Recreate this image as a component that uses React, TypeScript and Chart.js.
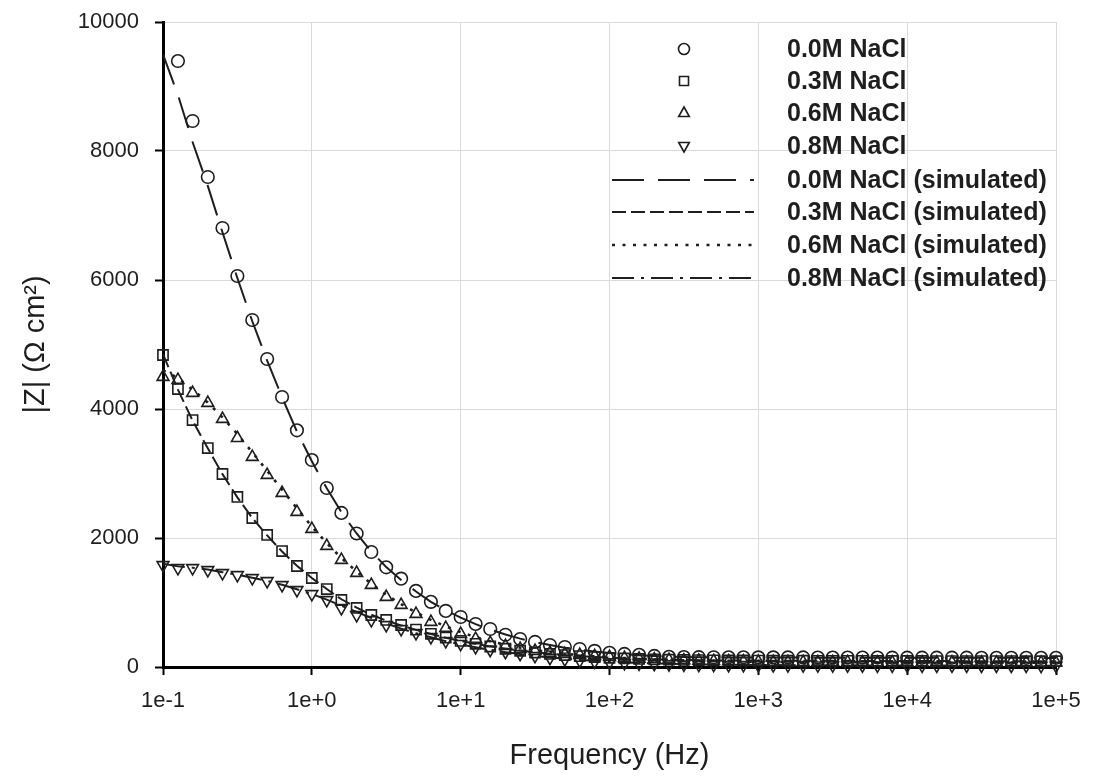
import React, { useEffect, useRef } from 'react';
import { Chart, registerables } from 'chart.js';

Chart.register(...registerables);

// Frequency grid (Hz), 10 points per decade
const frequencies = [
  0.1, 0.126, 0.158, 0.2, 0.251, 0.316, 0.398, 0.501, 0.631, 0.794,
  1, 1.26, 1.58, 2, 2.51, 3.16, 3.98, 5.01, 6.31, 7.94,
  10, 12.6, 15.8, 20, 25.1, 31.6, 39.8, 50.1, 63.1, 79.4,
  100, 126, 158, 200, 251, 316, 398, 501, 631, 794,
  1000, 1260, 1580, 2000, 2510, 3160, 3980, 5010, 6310, 7940,
  10000, 12600, 15800, 20000, 25100, 31600, 39800, 50100, 63100, 79400,
  100000,
];

// Measured |Z| (Ohm cm2)
const z00 = [
  null, 9395, 8465, 7597, 6806, 6062, 5380, 4775, 4186, 3670,
  3209, 2775, 2388, 2070, 1783, 1545, 1370, 1180, 1010, 870,
  775, 667, 589, 500, 434, 388, 341, 310, 279, 250,
  220, 203, 188, 172, 158, 154, 152, 151, 150, 150,
  149, 149, 148, 148, 147, 147, 146, 146, 146, 145,
  145, 145, 144, 144, 144, 143, 143, 143, 142, 142, 142,
];
const z03 = [
  4837, 4310, 3829, 3395, 2992, 2636, 2310, 2047, 1798, 1566,
  1380, 1209, 1039, 915, 806, 729, 651, 580, 515, 455,
  405, 360, 318, 283, 252, 225, 203, 185, 168, 155,
  143, 133, 125, 118, 113, 109, 106, 104, 102, 101,
  100, 99, 98, 97, 96, 96, 95, 95, 94, 94,
  93, 93, 92, 92, 92, 91, 91, 91, 90, 90, 90,
];
const z06 = [
  4496, 4450, 4248, 4093, 3845, 3550, 3256, 2977, 2698, 2403,
  2140, 1876, 1659, 1457, 1271, 1085, 961, 822, 698, 605,
  512, 434, 372, 326, 279, 248, 217, 200, 186, 170,
  155, 140, 128, 118, 110, 103, 97, 92, 88, 85,
  82, 80, 78, 77, 76, 75, 74, 73, 72, 72,
  71, 71, 70, 70, 70, 69, 69, 69, 68, 68, 68,
];
const z08 = [
  1581, 1535, 1535, 1504, 1457, 1426, 1380, 1333, 1271, 1194,
  1132, 1039, 915, 806, 729, 651, 589, 527, 465, 403,
  357, 310, 264, 233, 202, 171, 140, 120, 100, 85,
  72, 62, 54, 47, 42, 38, 35, 33, 31, 30,
  29, 28, 27, 26, 25, 25, 24, 24, 23, 23,
  22, 22, 21, 21, 21, 20, 20, 20, 20, 19, 19,
];

// Simulated |Z|
const z00Sim = [
  9500, 8870, 8140, 7460, 6740, 6030, 5360, 4750, 4180, 3650,
  3190, 2770, 2400, 2070, 1790, 1550, 1350, 1170, 1010, 880,
  765, 665, 580, 505, 440, 385, 340, 300, 268, 240,
  216, 198, 184, 172, 162, 156, 152, 150, 149, 148,
  147, 147, 146, 146, 145, 145, 145, 144, 144, 144,
  143, 143, 143, 143, 142, 142, 142, 142, 141, 141, 141,
];
const z03Sim = [
  4850, 4300, 3820, 3390, 2990, 2630, 2310, 2040, 1790, 1570,
  1380, 1210, 1050, 920, 810, 720, 645, 575, 512, 455,
  405, 360, 320, 285, 255, 228, 205, 186, 170, 156,
  145, 135, 127, 120, 114, 110, 106, 103, 101, 100,
  99, 98, 97, 96, 96, 95, 95, 94, 94, 93,
  93, 92, 92, 92, 91, 91, 91, 90, 90, 90, 89,
];
const z06Sim = [
  4600, 4480, 4300, 4100, 3870, 3610, 3330, 3040, 2750, 2460,
  2180, 1920, 1690, 1480, 1290, 1120, 975, 845, 730, 630,
  540, 465, 400, 345, 300, 262, 230, 205, 184, 167,
  152, 139, 128, 118, 110, 103, 97, 92, 88, 85,
  82, 80, 78, 77, 76, 75, 74, 73, 72, 72,
  71, 71, 70, 70, 70, 69, 69, 69, 68, 68, 68,
];
const z08Sim = [
  1600, 1560, 1540, 1510, 1470, 1430, 1385, 1335, 1275, 1205,
  1130, 1045, 950, 855, 760, 675, 595, 525, 460, 400,
  350, 305, 265, 230, 200, 172, 148, 128, 110, 95,
  82, 71, 62, 55, 49, 44, 40, 37, 35, 33,
  31, 30, 29, 28, 27, 26, 26, 25, 25, 24,
  24, 23, 23, 22, 22, 22, 21, 21, 21, 20, 20,
];

const xTickValues = [0.1, 1, 10, 100, 1000, 10000, 100000];
const xTickLabels = ['1e-1', '1e+0', '1e+1', '1e+2', '1e+3', '1e+4', '1e+5'];

const measuredLabels = ['0.0M NaCl', '0.3M NaCl', '0.6M NaCl', '0.8M NaCl'];
const simulatedLabels = [
  '0.0M NaCl (simulated)',
  '0.3M NaCl (simulated)',
  '0.6M NaCl (simulated)',
  '0.8M NaCl (simulated)',
];

const FONT = "'Liberation Sans', Arial, Helvetica, sans-serif";
const INK = '#1e1e1e';

const markerStyles = [
  { style: 'circle', radius: 6.3, rotation: 0 },
  { style: 'rect', radius: 7.2, rotation: 0 },
  { style: 'triangle', radius: 6.8, rotation: 0 },
  { style: 'triangle', radius: 6.8, rotation: 180 },
];
const dashStyles = [
  { dash: [32, 14], width: 2 },
  { dash: [14, 5], width: 2 },
  { dash: [3, 7.5], width: 2.6 },
  { dash: [22, 7, 3, 7], width: 2 },
];

function toPoints(values: (number | null)[]) {
  const pts: { x: number; y: number }[] = [];
  frequencies.forEach((f, i) => {
    const v = values[i];
    if (v !== null && v !== undefined) pts.push({ x: f, y: v });
  });
  return pts;
}

function drawMarker(ctx: CanvasRenderingContext2D, kind: number, x: number, y: number) {
  ctx.beginPath();
  if (kind === 0) {
    ctx.arc(x, y, 5.5, 0, Math.PI * 2);
  } else if (kind === 1) {
    ctx.rect(x - 4.5, y - 4.5, 9, 9);
  } else if (kind === 2) {
    ctx.moveTo(x, y - 6);
    ctx.lineTo(x + 5.3, y + 3.5);
    ctx.lineTo(x - 5.3, y + 3.5);
    ctx.closePath();
  } else {
    ctx.moveTo(x, y + 6);
    ctx.lineTo(x + 5.3, y - 3.5);
    ctx.lineTo(x - 5.3, y - 3.5);
    ctx.closePath();
  }
  ctx.stroke();
}

const legendPlugin = {
  id: 'naclLegend',
  afterDraw(chart: any) {
    const ctx: CanvasRenderingContext2D = chart.ctx;
    const rows = [49, 81, 113, 146, 180, 212, 245, 278];
    ctx.save();
    ctx.strokeStyle = INK;
    ctx.fillStyle = INK;
    ctx.font = `bold 25px ${FONT}`;
    ctx.textBaseline = 'middle';
    ctx.textAlign = 'left';
    measuredLabels.forEach((label, i) => {
      ctx.lineWidth = 1.6;
      ctx.setLineDash([]);
      drawMarker(ctx, i, 684, rows[i]);
      ctx.fillText(label, 787, rows[i] + 1);
    });
    simulatedLabels.forEach((label, i) => {
      const y = rows[i + 4];
      ctx.lineWidth = dashStyles[i].width;
      ctx.setLineDash(dashStyles[i].dash);
      ctx.beginPath();
      ctx.moveTo(612, y);
      ctx.lineTo(754, y);
      ctx.stroke();
      ctx.setLineDash([]);
      ctx.fillText(label, 787, y + 1);
    });
    ctx.restore();
  },
};

export default function App() {
  const canvasRef = useRef<HTMLCanvasElement | null>(null);

  useEffect(() => {
    if (!canvasRef.current) return;
    const measured = [z00, z03, z06, z08];
    const simulated = [z00Sim, z03Sim, z06Sim, z08Sim];

    const markerSets = measured.map((vals, i) => ({
      label: measuredLabels[i],
      data: toPoints(vals),
      showLine: false,
      pointStyle: markerStyles[i].style,
      pointRadius: markerStyles[i].radius,
      pointRotation: markerStyles[i].rotation,
      pointBorderWidth: 1.6,
      pointBorderColor: INK,
      pointBackgroundColor: 'rgba(0,0,0,0)',
      borderColor: INK,
      backgroundColor: 'rgba(0,0,0,0)',
      clip: false as any,
    }));
    const lineSets = simulated.map((vals, i) => ({
      label: simulatedLabels[i],
      data: toPoints(vals),
      showLine: true,
      pointRadius: 0,
      borderColor: INK,
      borderWidth: dashStyles[i].width,
      borderDash: dashStyles[i].dash,
      tension: 0,
      fill: false,
    }));

    const chart = new Chart(canvasRef.current, {
      type: 'line',
      data: { datasets: [...markerSets, ...lineSets] as any },
      options: {
        responsive: false,
        animation: false,
        layout: { padding: { left: 0, right: 37, top: 22, bottom: 0 } },
        plugins: { legend: { display: false }, tooltip: { enabled: false } },
        scales: {
          x: {
            type: 'logarithmic',
            min: 0.1,
            max: 100000,
            afterBuildTicks: (scale: any) => {
              scale.ticks = xTickValues.map((v) => ({ value: v }));
            },
            afterFit: (scale: any) => {
              scale.height = 109;
              scale.paddingLeft = 0;
              scale.paddingRight = 0;
            },
            ticks: {
              autoSkip: false,
              maxRotation: 0,
              padding: 13,
              color: INK,
              font: { family: FONT, size: 22 },
              callback: (_v: any, idx: number) => xTickLabels[idx],
            },
            grid: { color: '#d9d9d9', lineWidth: 1, tickColor: '#000', tickLength: 8, tickWidth: 2 },
            border: { display: true, color: '#000', width: 3 },
            title: {
              display: true,
              text: 'Frequency (Hz)',
              color: INK,
              font: { family: FONT, size: 29 },
              padding: { top: 0, bottom: 3 },
            },
          },
          y: {
            type: 'linear',
            min: 0,
            max: 10000,
            afterFit: (scale: any) => {
              scale.width = 163;
              scale.paddingTop = 0;
              scale.paddingBottom = 0;
            },
            ticks: {
              stepSize: 2000,
              padding: 16,
              color: INK,
              font: { family: FONT, size: 22 },
              callback: (v: any) => String(v),
            },
            grid: { color: '#d9d9d9', lineWidth: 1, tickColor: '#000', tickLength: 8, tickWidth: 2 },
            border: { display: true, color: '#000', width: 3 },
            title: {
              display: true,
              text: '|Z| (Ω cm²)',
              color: INK,
              font: { family: FONT, size: 29 },
              padding: { top: 19, bottom: 0 },
            },
          },
        },
      },
      plugins: [legendPlugin],
    });

    return () => chart.destroy();
  }, []);

  return (
    <div style={{ position: 'absolute', left: 0, top: 0, width: 1093, height: 776, background: '#fff' }}>
      <canvas ref={canvasRef} width={1093} height={776} style={{ display: 'block' }} />
    </div>
  );
}
